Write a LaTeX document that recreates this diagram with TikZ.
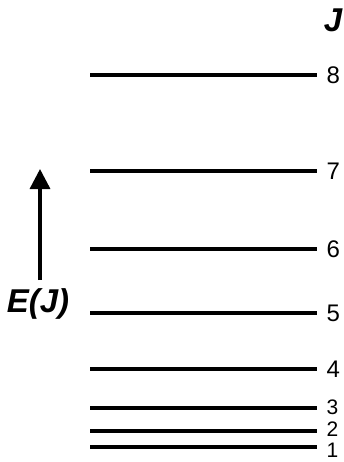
\documentclass[tikz,border=0pt]{standalone}
\usepackage{fontspec}
\setmainfont{Liberation Sans}
\usetikzlibrary{arrows.meta, positioning}
\tikzset{
  every picture/.style={line width=3.4pt},
  level/.style={draw=black, line width=3.4pt},
  jnum/.style={font=\fontsize{#1}{#1}\selectfont, anchor=west, inner sep=0pt},
  jnum/.default=24,
  axislabel/.style={font=\fontsize{33}{33}\selectfont\bfseries\itshape, inner sep=0pt},
  arrow/.style={-{Triangle[length=20pt, width=20pt]}, draw=black, line width=3.4pt},
}

\begin{document}
\begin{tikzpicture}[x=1pt, y=-1pt]
  \useasboundingbox (0,0) rectangle (344,462);
  % rotational levels
  \foreach \j/\y/\dy/\fs in {8/75/0/24, 7/171/0/24, 6/249/0/24, 5/313/0/24, 4/369/0/24, 3/408/1/21, 2/431/1.5/21, 1/447/-3.5/21} {
    \coordinate (l\j) at (90,\y);
    \coordinate (r\j) at (317,\y);
    \draw[level] (l\j) -- (r\j);
    \node[jnum=\fs] (n\j) at ([xshift=8pt, yshift=\dy pt]r\j) {\j};
  }
  \node[axislabel] (jhead) at (333,20) {J};
  % energy axis
  \node[axislabel] (ej) at (38,304) {E(J)};
  \coordinate (ebase) at (40,280);
  \coordinate (etop) at (40,169);
  \draw[arrow] (ebase) -- (etop);
\end{tikzpicture}
\end{document}
